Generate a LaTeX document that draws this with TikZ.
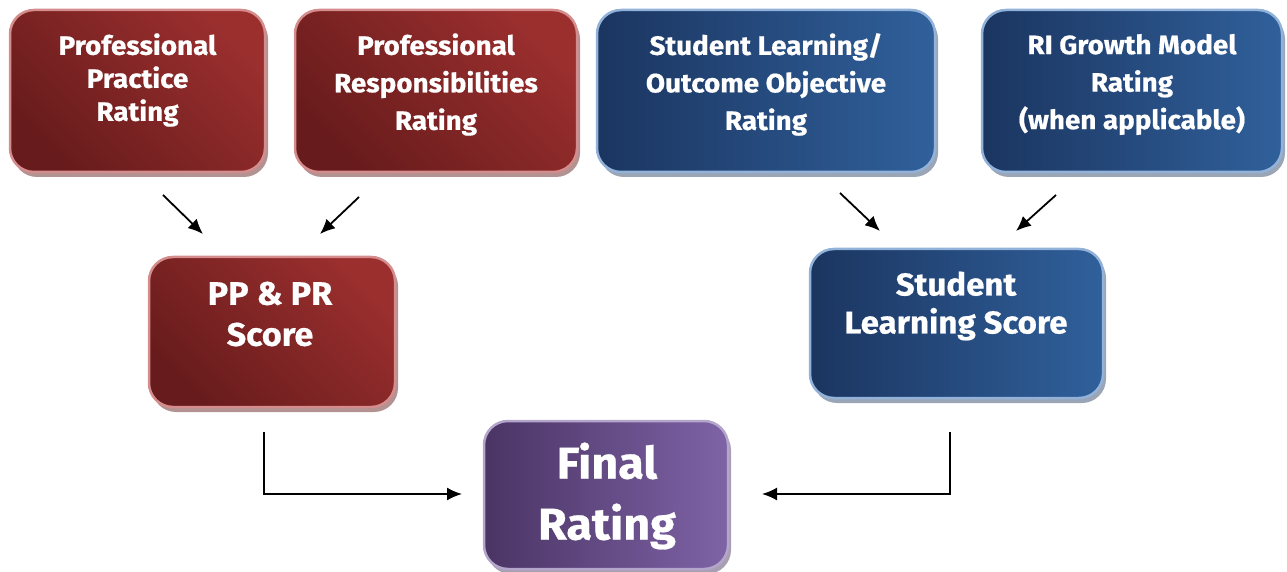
\documentclass[tikz,border=0pt]{standalone}
\usepackage{fontspec}
\setmainfont{Fira Sans}[BoldFeatures={FakeStretch=1.05,FakeBold=0.6}]
\usetikzlibrary{shadows,arrows.meta,calc}
\definecolor{redA}{HTML}{681B1C}
\definecolor{redB}{HTML}{9A2F2E}
\definecolor{redEdge}{HTML}{D48C8C}
\definecolor{redShadow}{HTML}{B39292}
\definecolor{bluA}{HTML}{1B3560}
\definecolor{bluB}{HTML}{30609B}
\definecolor{bluEdge}{HTML}{92B2DA}
\definecolor{bluShadow}{HTML}{9AA6B6}
\definecolor{purA}{HTML}{4A3464}
\definecolor{purB}{HTML}{7E63A6}
\definecolor{purEdge}{HTML}{B4A5CB}
\definecolor{purShadow}{HTML}{A8A0B2}
\tikzset{
  box/.style={rounded corners=24pt, line width=2.5pt, inner sep=0pt},
  redbox/.style={box, draw=redEdge, bottom color=redA, top color=redB, shading angle=-45,
     drop shadow={shadow xshift=3pt, shadow yshift=-5pt, fill=redShadow, opacity=1}},
  blubox/.style={box, draw=bluEdge, left color=bluA, right color=bluB,
     drop shadow={shadow xshift=3pt, shadow yshift=-5pt, fill=bluShadow, opacity=1}},
  purbox/.style={box, draw=purEdge, left color=purA, right color=purB,
     drop shadow={shadow xshift=3pt, shadow yshift=-5pt, fill=purShadow, opacity=1}},
  txt/.style={text=white, font=\bfseries, align=center, inner sep=0pt},
  arr/.style={line width=1.8pt, -{Latex[length=15pt,width=13pt]}}
}
\begin{document}
\begin{tikzpicture}[x=1pt,y=1pt]
\useasboundingbox (0,0) rectangle (1287,571);
% boxes
\node[redbox, minimum width=255pt, minimum height=162pt] (ppr) at (137.5,480) {};
\node[redbox, minimum width=282pt, minimum height=162pt] (prr) at (436,480) {};
\node[blubox, minimum width=338pt, minimum height=162pt] (slo) at (766,480) {};
\node[blubox, minimum width=300pt, minimum height=162pt] (rig) at (1132,480) {};
\node[redbox, minimum width=246pt, minimum height=150pt] (pppr) at (272,239) {};
\node[blubox, minimum width=293pt, minimum height=149pt] (sls) at (956.5,247.5) {};
\node[purbox, minimum width=244pt, minimum height=148pt] (fin) at (606,76) {};
% texts
\node[txt, font=\bfseries\fontsize{26.5}{33}\selectfont] (tppr) at (137.5,491) {Professional\\Practice\\Rating};
\node[txt, font=\bfseries\fontsize{26.5}{37.5}\selectfont] (tprr) at (436,486.5) {Professional\\Responsibilities\\Rating};
\node[txt, font=\bfseries\fontsize{26.5}{37.5}\selectfont] (tslo) at (766,486.5) {Student Learning/\\Outcome Objective\\Rating};
\node[txt, font=\bfseries\fontsize{26.5}{37.5}\selectfont] (trig) at (1132,486.5) {RI Growth Model\\Rating\\(when applicable)};
\node[txt, font=\bfseries\fontsize{32.5}{41}\selectfont] (tpppr) at (270,257) {PP \& PR\\Score};
\node[txt, font=\bfseries\fontsize{31.5}{38}\selectfont] (tsls) at (956,265) {Student\\Learning Score};
\node[txt, font=\bfseries\fontsize{44.5}{61}\selectfont] (tfin) at (607,75) {Final\\Rating};
% arrow ends
\coordinate (a1s) at (163,376); \coordinate (a1e) at (203,337);
\coordinate (a2s) at (359,374); \coordinate (a2e) at (320,337);
\coordinate (a3s) at (840,378); \coordinate (a3e) at (880,340);
\coordinate (a4s) at (1056,376); \coordinate (a4e) at (1016,340);
\coordinate (b1s) at (264,139); \coordinate (b1e) at (462,77);
\coordinate (b2s) at (950,139); \coordinate (b2e) at (762,77);
\draw[arr] (a1s) -- (a1e);
\draw[arr] (a2s) -- (a2e);
\draw[arr] (a3s) -- (a3e);
\draw[arr] (a4s) -- (a4e);
\draw[arr] (b1s) |- (b1e);
\draw[arr] (b2s) |- (b2e);
\end{tikzpicture}
\end{document}
